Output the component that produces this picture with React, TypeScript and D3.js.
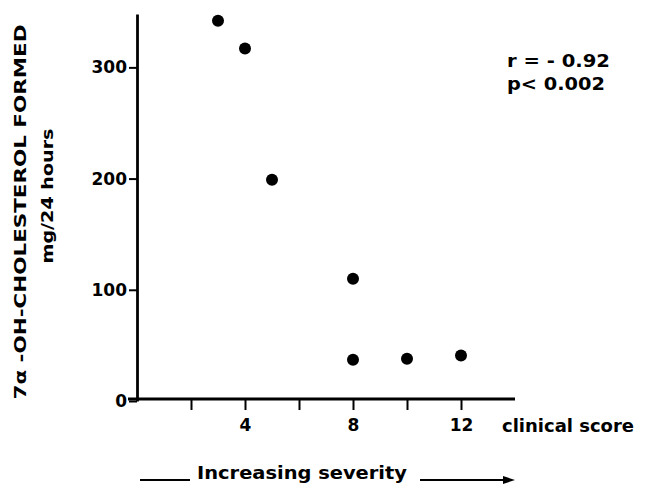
import React, { useEffect, useRef } from 'react';
import * as d3 from 'd3';

// clinical score vs 7a-OH-cholesterol formed (mg/24 h)
const scores = [3, 4, 5, 8, 8, 10, 12];
const formed = [342, 317, 199, 110, 37, 38, 41];
const xTicks = [2, 4, 6, 8, 10, 12];
const xLabels = [4, 8, 12];
const yTicks = [0, 100, 200, 300];
const stats = ['r = - 0.92', 'p< 0.002'];

const FONT = '"DejaVu Sans", "Liberation Sans", Arial, sans-serif';

const App = () => {
  const ref = useRef<SVGSVGElement>(null);
  const dim = { width: 648, height: 488 };

  useEffect(() => {
    const svg = d3.select(ref.current);
    svg.selectAll('*').remove();

    //scales
    const x = d3.scaleLinear().domain([0, 14]).range([137, 515]);
    const y = d3.scaleLinear().domain([0, 348]).range([401, 14]);

    //y axis
    const yAxis = svg
      .append('g')
      .attr('transform', `translate(${x(0)},0)`)
      .call(
        d3.axisLeft(y).tickValues(yTicks).tickSize(8).tickSizeOuter(0).tickPadding(2)
      );
    yAxis.select('.domain').attr('stroke-width', 2.8).attr('stroke', '#000');
    yAxis.selectAll('.tick line').attr('stroke-width', 2).attr('stroke', '#000');
    yAxis
      .selectAll('.tick text')
      .attr('font-family', FONT)
      .attr('font-weight', 'bold')
      .attr('font-size', 17)
      .attr('fill', '#000');

    //x axis
    const xAxis = svg
      .append('g')
      .attr('transform', `translate(0,${y(0) - 2})`)
      .call(
        d3
          .axisBottom(x)
          .tickValues(xTicks)
          .tickSize(11)
          .tickSizeOuter(0)
          .tickPadding(9)
          .tickFormat((d) => (xLabels.includes(d as number) ? String(d) : ''))
      );
    xAxis.select('.domain').remove();
    xAxis.selectAll('.tick line').attr('stroke-width', 2).attr('stroke', '#000');
    xAxis
      .selectAll('.tick text')
      .attr('font-family', FONT)
      .attr('font-weight', 'bold')
      .attr('font-size', 17)
      .attr('fill', '#000');
    svg
      .append('line')
      .attr('x1', x(0) - 9)
      .attr('x2', x(14))
      .attr('y1', y(0) - 2)
      .attr('y2', y(0) - 2)
      .attr('stroke', '#000')
      .attr('stroke-width', 2.8);

    //points
    svg
      .append('g')
      .selectAll('circle')
      .data(scores)
      .join('circle')
      .attr('cx', (d) => x(d))
      .attr('cy', (_, i) => y(formed[i]))
      .attr('r', 6)
      .attr('fill', '#000');

    //x label
    svg
      .append('text')
      .attr('x', 502)
      .attr('y', 432)
      .attr('font-family', FONT)
      .attr('font-weight', 'bold')
      .attr('font-size', 17)
      .attr('textLength', 132)
      .attr('lengthAdjust', 'spacingAndGlyphs')
      .text('clinical score');

    //severity arrow
    svg
      .append('line')
      .attr('x1', 140)
      .attr('x2', 190)
      .attr('y1', 480)
      .attr('y2', 480)
      .attr('stroke', '#000')
      .attr('stroke-width', 1.8);
    svg
      .append('text')
      .attr('x', 197)
      .attr('y', 479)
      .attr('font-family', FONT)
      .attr('font-weight', 'bold')
      .attr('font-size', 17)
      .attr('textLength', 210)
      .attr('lengthAdjust', 'spacingAndGlyphs')
      .text('Increasing severity');
    svg
      .append('line')
      .attr('x1', 420)
      .attr('x2', 508)
      .attr('y1', 480)
      .attr('y2', 480)
      .attr('stroke', '#000')
      .attr('stroke-width', 1.8);
    svg
      .append('path')
      .attr('d', 'M503,476 L515,480 L503,484 Z')
      .attr('fill', '#000');

    //stats
    svg
      .append('g')
      .selectAll('text')
      .data(stats)
      .join('text')
      .attr('x', 507)
      .attr('y', (_, i) => 67 + i * 23)
      .attr('font-family', FONT)
      .attr('font-weight', 'bold')
      .attr('font-size', 17)
      .attr('textLength', (_, i) => (i === 0 ? 103 : 98))
      .attr('lengthAdjust', 'spacingAndGlyphs')
      .text((d) => d);

    //y title
    svg
      .append('text')
      .attr('transform', 'translate(26,212) rotate(-90)')
      .attr('text-anchor', 'middle')
      .attr('font-family', FONT)
      .attr('font-weight', 'bold')
      .attr('font-size', 16)
      .attr('textLength', 375)
      .attr('lengthAdjust', 'spacingAndGlyphs')
      .text('7\u03b1 -OH-CHOLESTEROL  FORMED');
    svg
      .append('text')
      .attr('transform', 'translate(53,196) rotate(-90)')
      .attr('text-anchor', 'middle')
      .attr('font-family', FONT)
      .attr('font-weight', 'bold')
      .attr('font-size', 16)
      .attr('textLength', 135)
      .attr('lengthAdjust', 'spacingAndGlyphs')
      .text('mg/24 hours');
  }, []);

  return (
    <svg
      ref={ref}
      width={dim.width}
      height={dim.height}
      style={{ position: 'absolute', left: 0, top: 0, background: '#fff' }}
    ></svg>
  );
};

export default App;
